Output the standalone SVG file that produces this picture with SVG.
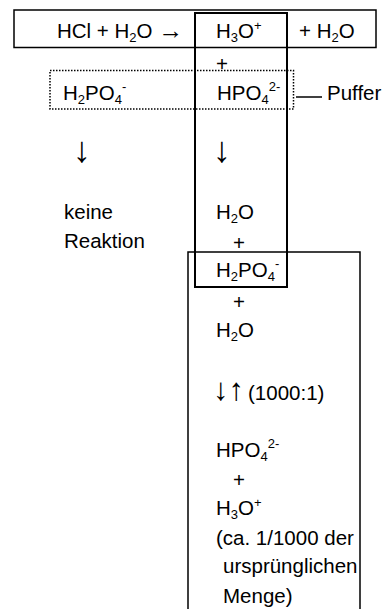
<svg xmlns="http://www.w3.org/2000/svg" width="387" height="609" viewBox="0 0 387 609">
<style>
text{font-family:"Liberation Sans",Arial,sans-serif;font-size:20.5px;fill:#000}
.s{font-size:13px}
.arr{font-size:36px}
.arr2{font-size:31px}
.box{fill:none;stroke:#000;stroke-width:1.5}
.thick{fill:none;stroke:#000;stroke-width:2}
.dot{fill:none;stroke:#000;stroke-width:1.5;stroke-dasharray:1.5 1.5}
</style>
<rect width="387" height="609" fill="#fff"/>
<g id="connectors">
<line x1="296" y1="97" x2="322" y2="97" stroke="#000" stroke-width="1.5"/>
</g>
<g id="reaction-box">
<rect class="box" x="14" y="10" width="362" height="37.5"/>
<text x="57" y="38">HCl + H<tspan class="s" dy="4">2</tspan><tspan dy="-4">O </tspan><tspan font-size="25px" dy="1">→</tspan></text>
<text x="216" y="38">H<tspan class="s" dy="4">3</tspan><tspan dy="-4">O</tspan><tspan class="s" dy="-8">+</tspan></text>
<text x="299" y="38">+ H<tspan class="s" dy="4">2</tspan><tspan dy="-4">O</tspan></text>
</g>
<g id="buffer-box">
<rect class="dot" x="50" y="70.5" width="243.5" height="38.5"/>
<text x="63" y="100">H<tspan class="s" dy="4">2</tspan><tspan dy="-4">PO</tspan><tspan class="s" dy="4">4</tspan><tspan class="s" dy="-13">-</tspan></text>
<text x="217" y="100">HPO<tspan class="s" dy="4">4</tspan><tspan class="s" dy="-13">2-</tspan></text>
</g>
<g id="puffer-label">
<text x="327" y="100">Puffer</text>
</g>
<g id="h3o-column">
<rect class="thick" x="195" y="13" width="92" height="274"/>
<text x="216" y="70.5">+</text>
</g>
<g id="left-branch">
<text class="arr" x="73" y="162">↓</text>
<text x="64" y="219">keine</text>
<text x="64" y="248">Reaktion</text>
</g>
<g id="right-branch">
<text class="arr" x="213" y="162">↓</text>
<text x="216" y="219">H<tspan class="s" dy="4">2</tspan><tspan dy="-4">O</tspan></text>
<text x="233" y="250">+</text>
</g>
<g id="equilibrium-box">
<path class="box" d="M188 612V252H360V612"/>
<text x="216" y="277">H<tspan class="s" dy="4">2</tspan><tspan dy="-4">PO</tspan><tspan class="s" dy="4">4</tspan><tspan class="s" dy="-13">-</tspan></text>
<text x="233" y="309">+</text>
<text x="216" y="337">H<tspan class="s" dy="4">2</tspan><tspan dy="-4">O</tspan></text>
<text class="arr2" x="213" y="400">↓↑</text>
<text x="248" y="400">(1000:1)</text>
<text x="216" y="457">HPO<tspan class="s" dy="4">4</tspan><tspan class="s" dy="-13">2-</tspan></text>
<text x="233" y="487">+</text>
<text x="216" y="515">H<tspan class="s" dy="4">3</tspan><tspan dy="-4">O</tspan><tspan class="s" dy="-8">+</tspan></text>
<text x="216" y="545">(ca. 1/1000 der</text>
<text x="223" y="573">ursprünglichen</text>
<text x="223" y="603">Menge)</text>
</g>
</svg>
